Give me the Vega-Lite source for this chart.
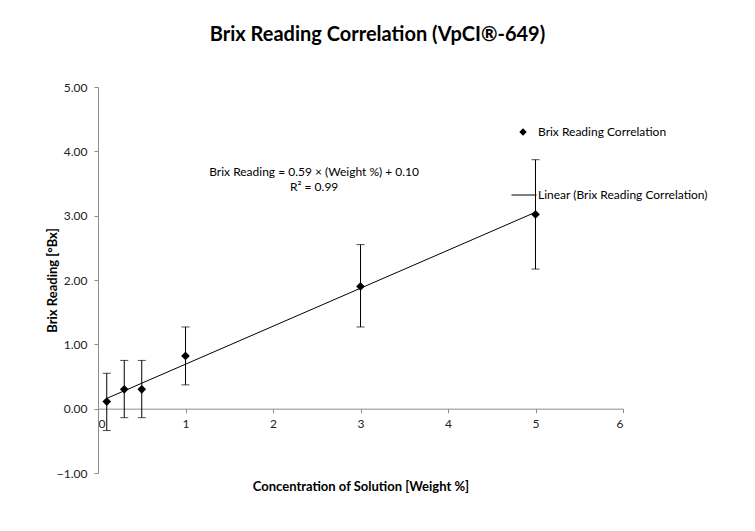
{
  "$schema": "https://vega.github.io/schema/vega-lite/v6.json",
  "width": 525,
  "height": 386,
  "autosize": {"type": "none"},
  "padding": {"left": 98, "top": 87, "right": 132, "bottom": 58},
  "background": "white",
  "title": {
    "text": "Brix Reading Correlation (VpCI®-649)",
    "font": "Lato",
    "fontSize": 20,
    "fontWeight": "bold",
    "color": "#000000",
    "anchor": "middle",
    "dx": 17,
    "offset": 36
  },
  "config": {
    "view": {"stroke": null},
    "font": "Lato",
    "axis": {
      "grid": false,
      "domainColor": "#8c8c8c",
      "tickColor": "#8c8c8c",
      "tickSize": 4,
      "labelFont": "Lato",
      "labelFontSize": 12,
      "labelColor": "#222222",
      "titleFont": "Lato",
      "titleFontSize": 13,
      "titleFontWeight": "bold",
      "titleColor": "#000000"
    }
  },
  "data": {
    "values": [
      {"w": 0.1, "brix": 0.11, "lo": -0.34, "hi": 0.55},
      {"w": 0.3, "brix": 0.30, "lo": -0.14, "hi": 0.75},
      {"w": 0.5, "brix": 0.30, "lo": -0.14, "hi": 0.75},
      {"w": 1.0, "brix": 0.82, "lo": 0.37, "hi": 1.27},
      {"w": 3.0, "brix": 1.90, "lo": 1.27, "hi": 2.55},
      {"w": 5.0, "brix": 3.02, "lo": 2.17, "hi": 3.87}
    ]
  },
  "layer": [
    {
      "mark": {"type": "rule", "color": "#000000", "strokeWidth": 1},
      "encoding": {
        "x": {
          "field": "w", "type": "quantitative",
          "scale": {"domain": [0, 6], "nice": false, "zero": false},
          "axis": {
            "title": "Concentration of Solution [Weight %]",
            "values": [0, 1, 2, 3, 4, 5, 6],
            "format": "d",
            "offset": -64.33,
            "labelPadding": 6,
            "titlePadding": 51
          }
        },
        "y": {
          "field": "lo", "type": "quantitative",
          "scale": {"domain": [-1, 5], "nice": false, "zero": false},
          "axis": {
            "title": "Brix Reading [°Bx]",
            "values": [-1, 0, 1, 2, 3, 4, 5],
            "format": ".2f",
            "labelPadding": 7,
            "titlePadding": -3
          }
        },
        "y2": {"field": "hi"}
      }
    },
    {
      "mark": {"type": "tick", "orient": "horizontal", "color": "#000000", "size": 8, "thickness": 1},
      "encoding": {
        "x": {"field": "w", "type": "quantitative"},
        "y": {"field": "lo", "type": "quantitative"}
      }
    },
    {
      "mark": {"type": "tick", "orient": "horizontal", "color": "#000000", "size": 8, "thickness": 1},
      "encoding": {
        "x": {"field": "w", "type": "quantitative"},
        "y": {"field": "hi", "type": "quantitative"}
      }
    },
    {
      "transform": [{"regression": "brix", "on": "w"}],
      "mark": {"type": "line", "strokeWidth": 1},
      "encoding": {
        "x": {"field": "w", "type": "quantitative"},
        "y": {"field": "brix", "type": "quantitative"},
        "color": {
          "datum": "Linear (Brix Reading Correlation)",
          "scale": {"range": ["#000000"]},
          "legend": {
            "title": null,
            "orient": "none",
            "legendX": 413,
            "legendY": 95,
            "symbolType": "stroke",
            "symbolSize": 625,
            "symbolStrokeWidth": 1,
            "labelOffset": 1,
            "labelLimit": 400,
            "labelFont": "Lato",
            "labelFontSize": 12,
            "labelColor": "#000000",
            "padding": 0
          }
        }
      }
    },
    {
      "mark": {"type": "point", "filled": true, "color": "#000000", "size": 75, "opacity": 1},
      "encoding": {
        "x": {"field": "w", "type": "quantitative"},
        "y": {"field": "brix", "type": "quantitative"},
        "shape": {
          "datum": "Brix Reading Correlation",
          "scale": {"range": ["diamond"]},
          "legend": {
            "title": null,
            "orient": "none",
            "legendX": 419,
            "legendY": 39,
            "symbolFillColor": "#000000",
            "symbolStrokeColor": "#000000",
            "symbolSize": 55,
            "labelOffset": 9,
            "labelLimit": 400,
            "labelFont": "Lato",
            "labelFontSize": 12,
            "labelColor": "#000000",
            "padding": 0
          }
        }
      }
    },
    {
      "data": {"values": [{"eq": "Brix Reading = 0.59 × (Weight %) + 0.10", "r2": "R² = 0.99"}]},
      "mark": {"type": "text", "align": "center", "baseline": "middle", "font": "Lato", "fontSize": 12, "fontWeight": "normal", "color": "#000000", "lineHeight": 15},
      "encoding": {
        "x": {"datum": 2.47},
        "y": {"datum": 3.68},
        "text": {"value": ["Brix Reading = 0.59 × (Weight %) + 0.10", "R² = 0.99"]}
      }
    }
  ]
}
